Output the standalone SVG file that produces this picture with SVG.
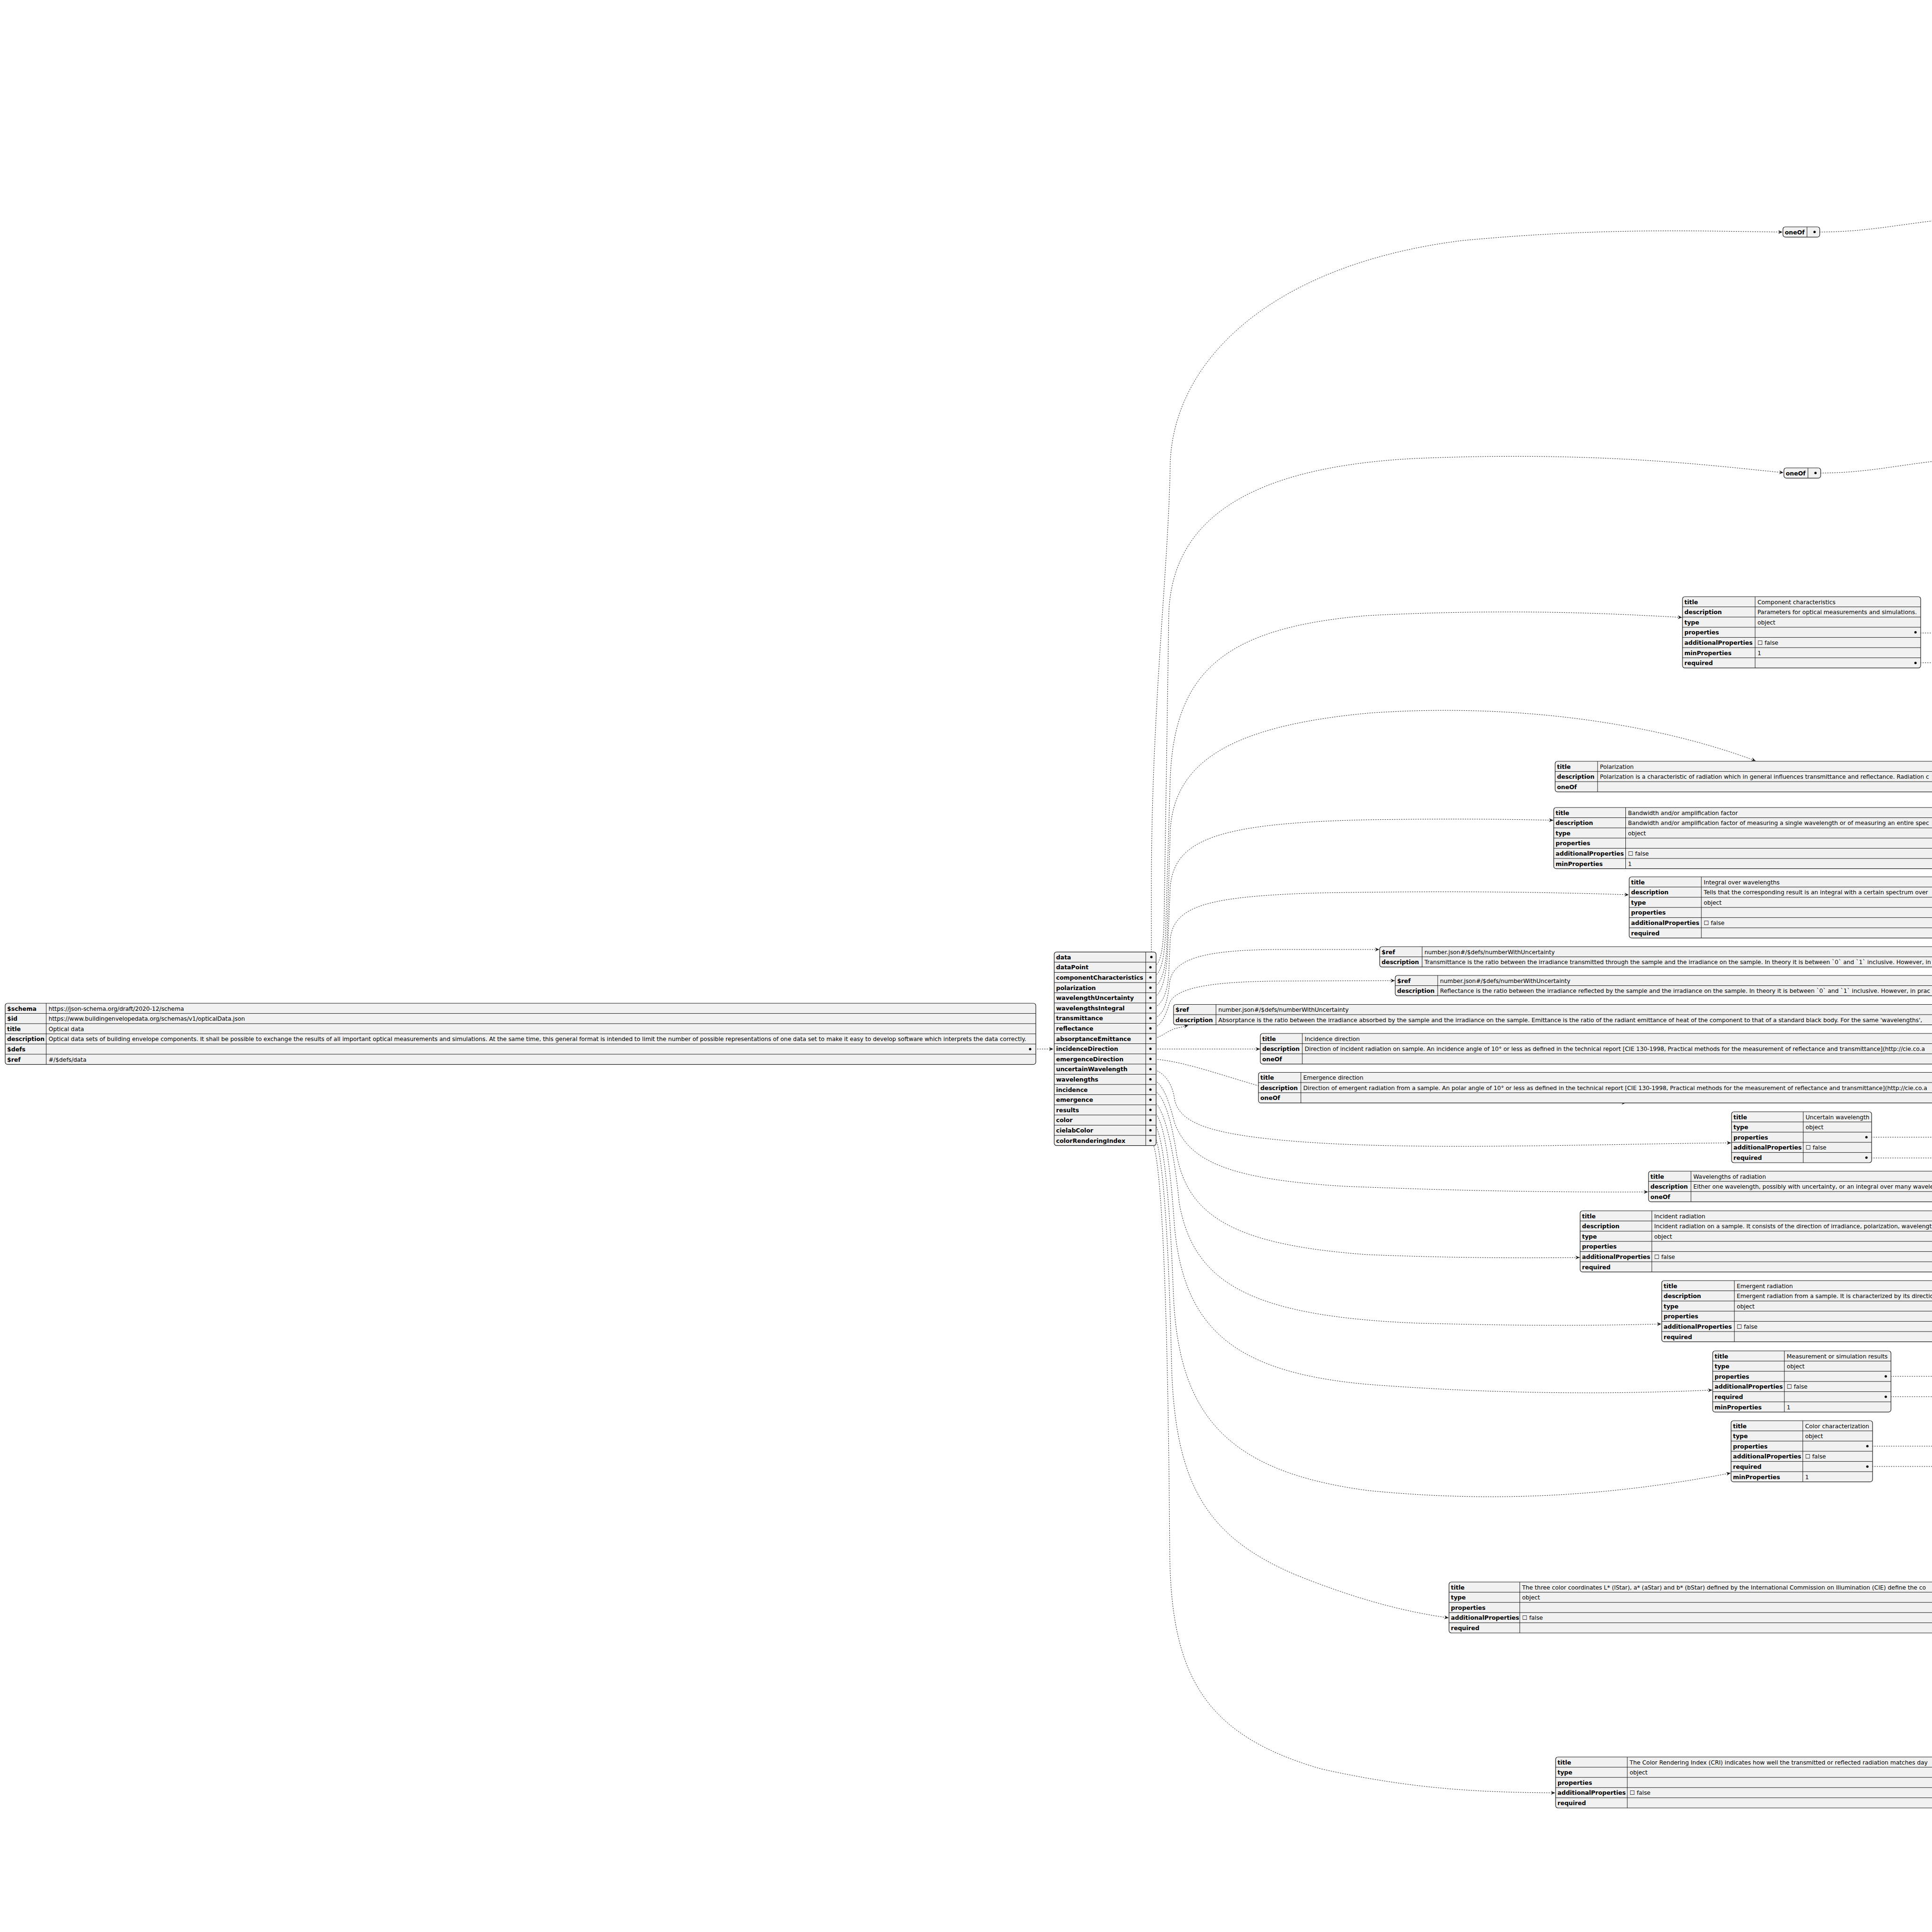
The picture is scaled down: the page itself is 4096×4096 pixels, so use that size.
<svg xmlns="http://www.w3.org/2000/svg" width="4096" height="4096" viewBox="0 0 4096 4096">
<defs>
<style>
.b{fill:#F1F1F1;stroke:#181818;stroke-width:1.2}
.l{fill:none;stroke:#181818;stroke-width:1}
.k{font-family:"DejaVu Sans","Liberation Sans",sans-serif;font-size:12.5px;font-weight:bold;fill:#000}
.v{font-family:"DejaVu Sans","Liberation Sans",sans-serif;font-size:12.3px;fill:#000}
.c{fill:none;stroke:#181818;stroke-width:1;stroke-dasharray:2.5,2.5}
.a{marker-end:url(#ah)}
.d{fill:#000}
</style>
<marker id="ah" markerUnits="userSpaceOnUse" markerWidth="10" markerHeight="9" refX="9" refY="4" orient="auto" overflow="visible">
<path d="M0,0 L9,4 L0,8 L3,4 Z" fill="#181818"/>
</marker>
</defs>
<rect width="4096" height="4096" fill="#FFFFFF"/>

<g id="connectors">
<path class="c a" d="M2184 2224 L2233 2224"/>
<path class="c a" d="M2441 2029 L2441 1880 C2441 1500 2478 1200 2481 980 C2490 760 2700 560 3100 510 C3400 482 3600 490 3779 492"/>
<path class="c a" d="M2439 2051 C2460 2051 2466 2020 2468 1950 L2478 1300 C2485 1100 2650 990 3000 972 C3400 955 3650 990 3781 1002"/>
<path class="c a" d="M2439 2072 C2460 2072 2470 2040 2472 1950 L2481 1650 C2490 1420 2600 1330 2900 1305 C3200 1290 3400 1300 3566 1309"/>
<path class="c a" d="M2439 2094 C2460 2094 2472 2060 2474 2000 L2481 1760 C2490 1620 2600 1540 2900 1512 C3200 1490 3500 1530 3722 1613"/>
<path class="c a" d="M2439 2116 C2460 2116 2474 2080 2476 2000 L2481 1880 C2490 1780 2580 1745 2900 1738 C3100 1735 3200 1737 3293 1739"/>
<path class="c a" d="M2439 2137 C2460 2137 2476 2110 2478 2060 L2481 1990 C2490 1920 2560 1900 2800 1893 C3100 1888 3300 1892 3453 1897"/>
<path class="c a" d="M2439 2159 C2465 2159 2475 2130 2480 2080 C2490 2030 2560 2015 2700 2013 L2924 2013"/>
<path class="c a" d="M2439 2180 C2462 2180 2472 2150 2480 2125 C2495 2095 2560 2082 2700 2080 L2957 2079"/>
<path class="c a" d="M2439 2202 C2460 2202 2470 2188 2490 2181 L2519 2174"/>
<path class="c a" d="M2439 2224 L2671 2224"/>
<path class="c a" d="M2439 2245 C2500 2248 2560 2270 2668 2302 C2800 2335 3000 2338 3447 2338"/>
<path class="c a" d="M2439 2267 C2460 2267 2485 2290 2490 2330 C2500 2380 2560 2405 2750 2420 C3000 2440 3400 2425 3670 2423"/>
<path class="c a" d="M2439 2289 C2460 2289 2475 2320 2490 2380 C2520 2460 2600 2500 2850 2515 C3100 2525 3300 2528 3494 2527"/>
<path class="c a" d="M2439 2310 C2460 2310 2480 2350 2495 2450 C2520 2580 2620 2640 2900 2660 C3100 2668 3250 2667 3349 2666"/>
<path class="c a" d="M2439 2332 C2460 2332 2485 2400 2500 2550 C2530 2720 2650 2790 3000 2805 C3250 2812 3400 2810 3522 2807"/>
<path class="c a" d="M2439 2353 C2460 2353 2478 2420 2490 2600 C2510 2820 2620 2910 2900 2935 C3200 2958 3450 2955 3630 2947"/>
<path class="c a" d="M2439 2375 C2460 2375 2478 2480 2488 2750 C2500 3000 2600 3120 2900 3160 C3200 3190 3450 3165 3669 3123"/>
<path class="c a" d="M2439 2396 C2460 2396 2476 2550 2484 2900 C2492 3150 2560 3260 2750 3340 C2900 3400 3000 3420 3071 3430"/>
<path class="c a" d="M2439 2418 C2460 2418 2476 2700 2480 3300 C2484 3560 2560 3680 2800 3750 C3000 3795 3150 3800 3297 3801"/>
<path class="c" d="M3847 492 C3950 492 4000 480 4100 468"/>
<path class="c" d="M3849 1003 C3950 1003 4000 990 4100 978"/>
<path class="c" d="M4061 1342 L4100 1342"/>
<path class="c" d="M4061 1405 L4100 1405"/>
<path class="c" d="M3957 2411 L4100 2411"/>
<path class="c" d="M3957 2455 L4100 2455"/>
<path class="c" d="M3998 2918 L4100 2918"/>
<path class="c" d="M3998 2961 L4100 2961"/>
<path class="c" d="M3959 3066 L4100 3066"/>
<path class="c" d="M3959 3109 L4100 3109"/>
</g>

<g id="root" transform="translate(11,2127)">
<rect class="b" width="2185" height="129.6" rx="5"/>
<path class="l" d="M0 21.6H2185M0 43.2H2185M0 64.8H2185M0 86.4H2185M0 108H2185M87 0V129.6"/>
<text class="k" x="4" y="15.5">$schema</text><text class="v" x="92" y="15.5">https://json-schema.org/draft/2020-12/schema</text>
<text class="k" x="4" y="37.1">$id</text><text class="v" x="92" y="37.1">https://www.buildingenvelopedata.org/schemas/v1/opticalData.json</text>
<text class="k" x="4" y="58.7">title</text><text class="v" x="92" y="58.7">Optical data</text>
<text class="k" x="4" y="80.3">description</text><text class="v" x="92" y="80.3">Optical data sets of building envelope components. It shall be possible to exchange the results of all important optical measurements and simulations. At the same time, this general format is intended to limit the number of possible representations of one data set to make it easy to develop software which interprets the data correctly.</text>
<text class="k" x="4" y="101.9">$defs</text><circle class="d" cx="2173" cy="97.2" r="2.5"/>
<text class="k" x="4" y="123.5">$ref</text><text class="v" x="92" y="123.5">#/$defs/data</text>
</g>

<g id="defs" transform="translate(2235,2018.3)">
<rect class="b" width="216" height="410.4" rx="5"/>
<path class="l" d="M0 21.6H216M0 43.2H216M0 64.8H216M0 86.4H216M0 108H216M0 129.6H216M0 151.2H216M0 172.8H216M0 194.4H216M0 216H216M0 237.6H216M0 259.2H216M0 280.8H216M0 302.4H216M0 324H216M0 345.6H216M0 367.2H216M0 388.8H216M194 0V410.4"/>
<text class="k" x="4" y="15.5">data</text>
<text class="k" x="4" y="37.1">dataPoint</text>
<text class="k" x="4" y="58.7">componentCharacteristics</text>
<text class="k" x="4" y="80.3">polarization</text>
<text class="k" x="4" y="101.9">wavelengthUncertainty</text>
<text class="k" x="4" y="123.5">wavelengthsIntegral</text>
<text class="k" x="4" y="145.1">transmittance</text>
<text class="k" x="4" y="166.7">reflectance</text>
<text class="k" x="4" y="188.3">absorptanceEmittance</text>
<text class="k" x="4" y="209.9">incidenceDirection</text>
<text class="k" x="4" y="231.5">emergenceDirection</text>
<text class="k" x="4" y="253.1">uncertainWavelength</text>
<text class="k" x="4" y="274.7">wavelengths</text>
<text class="k" x="4" y="296.3">incidence</text>
<text class="k" x="4" y="317.9">emergence</text>
<text class="k" x="4" y="339.5">results</text>
<text class="k" x="4" y="361.1">color</text>
<text class="k" x="4" y="382.7">cielabColor</text>
<text class="k" x="4" y="404.3">colorRenderingIndex</text>
<circle class="d" cx="206" cy="10.8" r="2.5"/><circle class="d" cx="204" cy="32.4" r="2.5"/><circle class="d" cx="204" cy="54" r="2.5"/><circle class="d" cx="204" cy="75.6" r="2.5"/><circle class="d" cx="204" cy="97.2" r="2.5"/><circle class="d" cx="204" cy="118.8" r="2.5"/><circle class="d" cx="204" cy="140.4" r="2.5"/><circle class="d" cx="204" cy="162" r="2.5"/><circle class="d" cx="204" cy="183.6" r="2.5"/><circle class="d" cx="204" cy="205.2" r="2.5"/><circle class="d" cx="204" cy="226.8" r="2.5"/><circle class="d" cx="204" cy="248.4" r="2.5"/><circle class="d" cx="204" cy="270" r="2.5"/><circle class="d" cx="204" cy="291.6" r="2.5"/><circle class="d" cx="204" cy="313.2" r="2.5"/><circle class="d" cx="204" cy="334.8" r="2.5"/><circle class="d" cx="204" cy="356.4" r="2.5"/><circle class="d" cx="204" cy="378" r="2.5"/><circle class="d" cx="204" cy="399.6" r="2.5"/>
</g>

<g id="data-oneOf" transform="translate(3780,481)">
<rect class="b" width="78" height="21.6" rx="5"/>
<path class="l" d="M51 0V21.6"/>
<text class="k" x="4" y="15.5">oneOf</text><circle class="d" cx="67" cy="10.8" r="2.5"/>
</g>

<g id="dataPoint-oneOf" transform="translate(3782,992)">
<rect class="b" width="78" height="21.6" rx="5"/>
<path class="l" d="M51 0V21.6"/>
<text class="k" x="4" y="15.5">oneOf</text><circle class="d" cx="67" cy="10.8" r="2.5"/>
</g>

<g id="componentCharacteristics" transform="translate(3567,1265)">
<rect class="b" width="505" height="151.2" rx="5"/>
<path class="l" d="M0 21.6H505M0 43.2H505M0 64.8H505M0 86.4H505M0 108H505M0 129.6H505M154 0V151.2"/>
<text class="k" x="4" y="15.5">title</text><text class="v" x="159" y="15.5">Component characteristics</text>
<text class="k" x="4" y="37.1">description</text><text class="v" x="159" y="37.1">Parameters for optical measurements and simulations.</text>
<text class="k" x="4" y="58.7">type</text><text class="v" x="159" y="58.7">object</text>
<text class="k" x="4" y="80.3">properties</text><circle class="d" cx="494" cy="75.6" r="2.5"/>
<text class="k" x="4" y="101.9">additionalProperties</text><text class="v" x="159" y="101.9">☐ false</text>
<text class="k" x="4" y="123.5">minProperties</text><text class="v" x="159" y="123.5">1</text>
<text class="k" x="4" y="145.1">required</text><circle class="d" cx="494" cy="140.4" r="2.5"/>
</g>

<g id="polarization" transform="translate(3297,1614)">
<rect class="b" width="900" height="64.8" rx="5"/>
<path class="l" d="M0 21.6H900M0 43.2H900M90 0V64.8"/>
<text class="k" x="4" y="15.5">title</text><text class="v" x="95" y="15.5">Polarization</text>
<text class="k" x="4" y="37.1">description</text><text class="v" x="95" y="37.1">Polarization is a characteristic of radiation which in general influences transmittance and reflectance. Radiation c</text>
<text class="k" x="4" y="58.7">oneOf</text>
</g>

<g id="wavelengthUncertainty" transform="translate(3294,1712)">
<rect class="b" width="900" height="129.6" rx="5"/>
<path class="l" d="M0 21.6H900M0 43.2H900M0 64.8H900M0 86.4H900M0 108H900M152.5 0V129.6"/>
<text class="k" x="4" y="15.5">title</text><text class="v" x="157.5" y="15.5">Bandwidth and/or amplification factor</text>
<text class="k" x="4" y="37.1">description</text><text class="v" x="157.5" y="37.1">Bandwidth and/or amplification factor of measuring a single wavelength or of measuring an entire spec</text>
<text class="k" x="4" y="58.7">type</text><text class="v" x="157.5" y="58.7">object</text>
<text class="k" x="4" y="80.3">properties</text>
<text class="k" x="4" y="101.9">additionalProperties</text><text class="v" x="157.5" y="101.9">☐ false</text>
<text class="k" x="4" y="123.5">minProperties</text><text class="v" x="157.5" y="123.5">1</text>
</g>

<g id="wavelengthsIntegral" transform="translate(3454,1859)">
<rect class="b" width="800" height="129.6" rx="5"/>
<path class="l" d="M0 21.6H800M0 43.2H800M0 64.8H800M0 86.4H800M0 108H800M153 0V129.6"/>
<text class="k" x="4" y="15.5">title</text><text class="v" x="158" y="15.5">Integral over wavelengths</text>
<text class="k" x="4" y="37.1">description</text><text class="v" x="158" y="37.1">Tells that the corresponding result is an integral with a certain spectrum over</text>
<text class="k" x="4" y="58.7">type</text><text class="v" x="158" y="58.7">object</text>
<text class="k" x="4" y="80.3">properties</text>
<text class="k" x="4" y="101.9">additionalProperties</text><text class="v" x="158" y="101.9">☐ false</text>
<text class="k" x="4" y="123.5">required</text>
</g>

<g id="transmittance" transform="translate(2925,2007)">
<rect class="b" width="1300" height="43.2" rx="5"/>
<path class="l" d="M0 21.6H1300M90 0V43.2"/>
<text class="k" x="4" y="15.5">$ref</text><text class="v" x="95" y="15.5">number.json#/$defs/numberWithUncertainty</text>
<text class="k" x="4" y="37.1">description</text><text class="v" x="95" y="37.1">Transmittance is the ratio between the irradiance transmitted through the sample and the irradiance on the sample. In theory it is between `0` and `1` inclusive. However, in</text>
</g>

<g id="reflectance" transform="translate(2958,2068)">
<rect class="b" width="1300" height="43.2" rx="5"/>
<path class="l" d="M0 21.6H1300M90 0V43.2"/>
<text class="k" x="4" y="15.5">$ref</text><text class="v" x="95" y="15.5">number.json#/$defs/numberWithUncertainty</text>
<text class="k" x="4" y="37.1">description</text><text class="v" x="95" y="37.1">Reflectance is the ratio between the irradiance reflected by the sample and the irradiance on the sample. In theory it is between `0` and `1` inclusive. However, in prac</text>
</g>

<g id="absorptanceEmittance" transform="translate(2488,2129.5)">
<rect class="b" width="1700" height="43.2" rx="5"/>
<path class="l" d="M0 21.6H1700M90 0V43.2"/>
<text class="k" x="4" y="15.5">$ref</text><text class="v" x="95" y="15.5">number.json#/$defs/numberWithUncertainty</text>
<text class="k" x="4" y="37.1">description</text><text class="v" x="95" y="37.1">Absorptance is the ratio between the irradiance absorbed by the sample and the irradiance on the sample. Emittance is the ratio of the radiant emittance of heat of the component to that of a standard black body. For the same 'wavelengths',</text>
</g>

<g id="incidenceDirection" transform="translate(2672,2191)">
<rect class="b" width="1500" height="64.8" rx="5"/>
<path class="l" d="M0 21.6H1500M0 43.2H1500M89 0V64.8"/>
<text class="k" x="4" y="15.5">title</text><text class="v" x="94" y="15.5">Incidence direction</text>
<text class="k" x="4" y="37.1">description</text><text class="v" x="94" y="37.1">Direction of incident radiation on sample. An incidence angle of 10° or less as defined in the technical report [CIE 130-1998, Practical methods for the measurement of reflectance and transmittance](http://cie.co.a</text>
<text class="k" x="4" y="58.7">oneOf</text>
</g>

<g id="emergenceDirection" transform="translate(2668,2273.5)">
<rect class="b" width="1500" height="64.8" rx="5"/>
<path class="l" d="M0 21.6H1500M0 43.2H1500M90 0V64.8"/>
<text class="k" x="4" y="15.5">title</text><text class="v" x="95" y="15.5">Emergence direction</text>
<text class="k" x="4" y="37.1">description</text><text class="v" x="95" y="37.1">Direction of emergent radiation from a sample. An polar angle of 10° or less as defined in the technical report [CIE 130-1998, Practical methods for the measurement of reflectance and transmittance](http://cie.co.a</text>
<text class="k" x="4" y="58.7">oneOf</text>
</g>

<g id="uncertainWavelength" transform="translate(3671,2357)">
<rect class="b" width="297" height="108" rx="5"/>
<path class="l" d="M0 21.6H297M0 43.2H297M0 64.8H297M0 86.4H297M152 0V108"/>
<text class="k" x="4" y="15.5">title</text><text class="v" x="157" y="15.5">Uncertain wavelength</text>
<text class="k" x="4" y="37.1">type</text><text class="v" x="157" y="37.1">object</text>
<text class="k" x="4" y="58.7">properties</text><circle class="d" cx="286" cy="54" r="2.5"/>
<text class="k" x="4" y="80.3">additionalProperties</text><text class="v" x="157" y="80.3">☐ false</text>
<text class="k" x="4" y="101.9">required</text><circle class="d" cx="286" cy="97.2" r="2.5"/>
</g>

<g id="wavelengths" transform="translate(3495,2483)">
<rect class="b" width="800" height="64.8" rx="5"/>
<path class="l" d="M0 21.6H800M0 43.2H800M90 0V64.8"/>
<text class="k" x="4" y="15.5">title</text><text class="v" x="95" y="15.5">Wavelengths of radiation</text>
<text class="k" x="4" y="37.1">description</text><text class="v" x="95" y="37.1">Either one wavelength, possibly with uncertainty, or an integral over many wavele</text>
<text class="k" x="4" y="58.7">oneOf</text>
</g>

<g id="incidence" transform="translate(3350,2567)">
<rect class="b" width="900" height="129.6" rx="5"/>
<path class="l" d="M0 21.6H900M0 43.2H900M0 64.8H900M0 86.4H900M0 108H900M152 0V129.6"/>
<text class="k" x="4" y="15.5">title</text><text class="v" x="157" y="15.5">Incident radiation</text>
<text class="k" x="4" y="37.1">description</text><text class="v" x="157" y="37.1">Incident radiation on a sample. It consists of the direction of irradiance, polarization, wavelengt</text>
<text class="k" x="4" y="58.7">type</text><text class="v" x="157" y="58.7">object</text>
<text class="k" x="4" y="80.3">properties</text>
<text class="k" x="4" y="101.9">additionalProperties</text><text class="v" x="157" y="101.9">☐ false</text>
<text class="k" x="4" y="123.5">required</text>
</g>

<g id="emergence" transform="translate(3523,2715)">
<rect class="b" width="800" height="129.6" rx="5"/>
<path class="l" d="M0 21.6H800M0 43.2H800M0 64.8H800M0 86.4H800M0 108H800M154 0V129.6"/>
<text class="k" x="4" y="15.5">title</text><text class="v" x="159" y="15.5">Emergent radiation</text>
<text class="k" x="4" y="37.1">description</text><text class="v" x="159" y="37.1">Emergent radiation from a sample. It is characterized by its directio</text>
<text class="k" x="4" y="58.7">type</text><text class="v" x="159" y="58.7">object</text>
<text class="k" x="4" y="80.3">properties</text>
<text class="k" x="4" y="101.9">additionalProperties</text><text class="v" x="159" y="101.9">☐ false</text>
<text class="k" x="4" y="123.5">required</text>
</g>

<g id="results" transform="translate(3631,2864)">
<rect class="b" width="378" height="129.6" rx="5"/>
<path class="l" d="M0 21.6H378M0 43.2H378M0 64.8H378M0 86.4H378M0 108H378M152 0V129.6"/>
<text class="k" x="4" y="15.5">title</text><text class="v" x="157" y="15.5">Measurement or simulation results</text>
<text class="k" x="4" y="37.1">type</text><text class="v" x="157" y="37.1">object</text>
<text class="k" x="4" y="58.7">properties</text><circle class="d" cx="367" cy="54" r="2.5"/>
<text class="k" x="4" y="80.3">additionalProperties</text><text class="v" x="157" y="80.3">☐ false</text>
<text class="k" x="4" y="101.9">required</text><circle class="d" cx="367" cy="97.2" r="2.5"/>
<text class="k" x="4" y="123.5">minProperties</text><text class="v" x="157" y="123.5">1</text>
</g>

<g id="color" transform="translate(3670,3012)">
<rect class="b" width="300" height="129.6" rx="5"/>
<path class="l" d="M0 21.6H300M0 43.2H300M0 64.8H300M0 86.4H300M0 108H300M152 0V129.6"/>
<text class="k" x="4" y="15.5">title</text><text class="v" x="157" y="15.5">Color characterization</text>
<text class="k" x="4" y="37.1">type</text><text class="v" x="157" y="37.1">object</text>
<text class="k" x="4" y="58.7">properties</text><circle class="d" cx="289" cy="54" r="2.5"/>
<text class="k" x="4" y="80.3">additionalProperties</text><text class="v" x="157" y="80.3">☐ false</text>
<text class="k" x="4" y="101.9">required</text><circle class="d" cx="289" cy="97.2" r="2.5"/>
<text class="k" x="4" y="123.5">minProperties</text><text class="v" x="157" y="123.5">1</text>
</g>

<g id="cielabColor" transform="translate(3072,3354)">
<rect class="b" width="1200" height="108" rx="5"/>
<path class="l" d="M0 21.6H1200M0 43.2H1200M0 64.8H1200M0 86.4H1200M150 0V108"/>
<text class="k" x="4" y="15.5">title</text><text class="v" x="155" y="15.5">The three color coordinates L* (lStar), a* (aStar) and b* (bStar) defined by the International Commission on Illumination (CIE) define the co</text>
<text class="k" x="4" y="37.1">type</text><text class="v" x="155" y="37.1">object</text>
<text class="k" x="4" y="58.7">properties</text>
<text class="k" x="4" y="80.3">additionalProperties</text><text class="v" x="155" y="80.3">☐ false</text>
<text class="k" x="4" y="101.9">required</text>
</g>

<g id="colorRenderingIndex" transform="translate(3298,3725)">
<rect class="b" width="1000" height="108" rx="5"/>
<path class="l" d="M0 21.6H1000M0 43.2H1000M0 64.8H1000M0 86.4H1000M152 0V108"/>
<text class="k" x="4" y="15.5">title</text><text class="v" x="157" y="15.5">The Color Rendering Index (CRI) indicates how well the transmitted or reflected radiation matches day</text>
<text class="k" x="4" y="37.1">type</text><text class="v" x="157" y="37.1">object</text>
<text class="k" x="4" y="58.7">properties</text>
<text class="k" x="4" y="80.3">additionalProperties</text><text class="v" x="157" y="80.3">☐ false</text>
<text class="k" x="4" y="101.9">required</text>
</g>
</svg>
